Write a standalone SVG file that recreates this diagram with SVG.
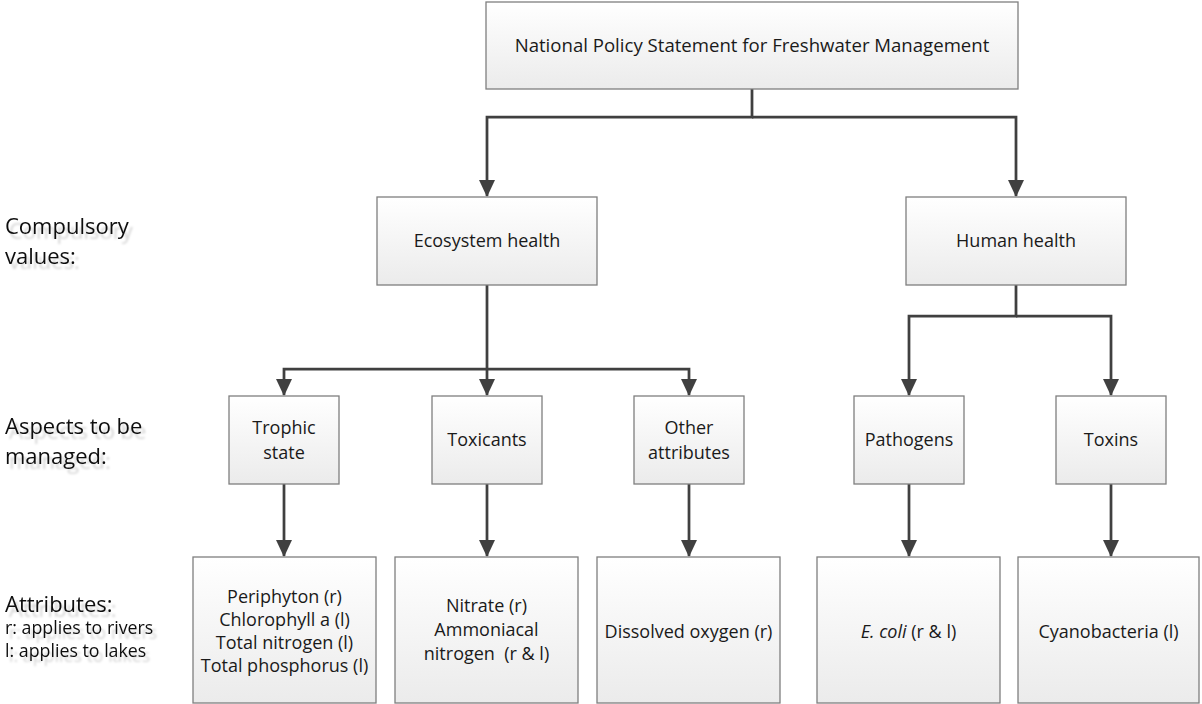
<svg xmlns="http://www.w3.org/2000/svg" width="1202" height="704" viewBox="0 0 1202 704">
  <defs>
    <linearGradient id="boxfill" x1="0" y1="0" x2="0" y2="1">
      <stop offset="0" stop-color="#ffffff"/>
      <stop offset="1" stop-color="#ebebeb"/>
    </linearGradient>
    <marker id="arrow" markerUnits="userSpaceOnUse" markerWidth="17" markerHeight="16" viewBox="0 0 17 16" refX="16" refY="8" orient="auto">
      <path d="M0,0 L17,8 L0,16 z" fill="#404040"/>
    </marker>
    <filter id="shadow" x="-10%" y="-30%" width="130%" height="180%">
      <feDropShadow dx="4" dy="5" stdDeviation="1.2" flood-color="#000" flood-opacity="0.17"/>
    </filter>
    <style>
      .box { fill: url(#boxfill); stroke: #7f7f7f; stroke-width: 1.3; }
      .t { font-family: "Open Sans", Lato, "Liberation Sans", sans-serif; font-size: 18px; fill: #1a1a1a; text-anchor: middle; }
      .lbl { font-family: "Open Sans", Lato, "Liberation Sans", sans-serif; font-size: 22px; fill: #111; filter: url(#shadow); }
      .lbls { font-family: "Open Sans", Lato, "Liberation Sans", sans-serif; font-size: 17.8px; fill: #111; filter: url(#shadow); }
      .conn { fill: none; stroke: #404040; stroke-width: 2.75; }
    </style>
  </defs>

  <g id="side-labels">
    <text class="lbl" x="5" y="234">Compulsory</text>
    <text class="lbl" x="5" y="264">values:</text>
    <text class="lbl" x="5" y="434">Aspects to be</text>
    <text class="lbl" x="5" y="464">managed:</text>
    <text class="lbl" x="5" y="612">Attributes:</text>
    <text class="lbls" x="5" y="634">r: applies to rivers</text>
    <text class="lbls" x="5" y="657">l: applies to lakes</text>
  </g>

  <g id="connectors">
    <path class="conn" d="M752,89 V117 H487 V196" marker-end="url(#arrow)"/>
    <path class="conn" d="M752,117 H1016 V196" marker-end="url(#arrow)"/>
    <path class="conn" d="M487,285 V395" marker-end="url(#arrow)"/>
    <path class="conn" d="M487,369 H284 V395" marker-end="url(#arrow)"/>
    <path class="conn" d="M487,369 H689 V395" marker-end="url(#arrow)"/>
    <path class="conn" d="M1016,285 V316 H909 V395" marker-end="url(#arrow)"/>
    <path class="conn" d="M1016,316 H1111 V395" marker-end="url(#arrow)"/>
    <path class="conn" d="M284,484 V556" marker-end="url(#arrow)"/>
    <path class="conn" d="M487,484 V556" marker-end="url(#arrow)"/>
    <path class="conn" d="M689,484 V556" marker-end="url(#arrow)"/>
    <path class="conn" d="M909,484 V556" marker-end="url(#arrow)"/>
    <path class="conn" d="M1111,484 V556" marker-end="url(#arrow)"/>
  </g>

  <g id="nps">
    <rect class="box" x="486" y="2" width="532" height="87"/>
    <text class="t" x="752" y="52" style="font-size:18.6px">National Policy Statement for Freshwater Management</text>
  </g>
  <g id="ecosystem-health">
    <rect class="box" x="377" y="197" width="220" height="88"/>
    <text class="t" x="487" y="247">Ecosystem health</text>
  </g>
  <g id="human-health">
    <rect class="box" x="906" y="197" width="220" height="88"/>
    <text class="t" x="1016" y="247">Human health</text>
  </g>

  <g id="trophic-state">
    <rect class="box" x="229" y="396" width="110" height="88"/>
    <text class="t" x="284" y="434">Trophic</text>
    <text class="t" x="284" y="459">state</text>
  </g>
  <g id="toxicants">
    <rect class="box" x="432" y="396" width="110" height="88"/>
    <text class="t" x="487" y="446">Toxicants</text>
  </g>
  <g id="other-attributes">
    <rect class="box" x="634" y="396" width="110" height="88"/>
    <text class="t" x="689" y="434">Other</text>
    <text class="t" x="689" y="459">attributes</text>
  </g>
  <g id="pathogens">
    <rect class="box" x="854" y="396" width="110" height="88"/>
    <text class="t" x="909" y="446">Pathogens</text>
  </g>
  <g id="toxins">
    <rect class="box" x="1056" y="396" width="110" height="88"/>
    <text class="t" x="1111" y="446">Toxins</text>
  </g>

  <g id="trophic-attributes">
    <rect class="box" x="193" y="557" width="183" height="146"/>
    <text class="t" x="284.5" y="603">Periphyton (r)</text>
    <text class="t" x="284.5" y="626">Chlorophyll a (l)</text>
    <text class="t" x="284.5" y="649">Total nitrogen (l)</text>
    <text class="t" x="284.5" y="672">Total phosphorus (l)</text>
  </g>
  <g id="toxicant-attributes">
    <rect class="box" x="395" y="557" width="183" height="146"/>
    <text class="t" x="486.5" y="612">Nitrate (r)</text>
    <text class="t" x="486.5" y="636">Ammoniacal</text>
    <text class="t" x="486.5" y="660" xml:space="preserve">nitrogen  (r &amp; l)</text>
  </g>
  <g id="other-attribute-list">
    <rect class="box" x="597" y="557" width="183" height="146"/>
    <text class="t" x="688.5" y="638">Dissolved oxygen (r)</text>
  </g>
  <g id="pathogen-attributes">
    <rect class="box" x="817" y="557" width="183" height="146"/>
    <text class="t" x="908.5" y="638"><tspan font-style="italic">E. coli</tspan> (r &amp; l)</text>
  </g>
  <g id="toxin-attributes">
    <rect class="box" x="1018" y="557" width="181" height="146"/>
    <text class="t" x="1108.5" y="638">Cyanobacteria (l)</text>
  </g>
</svg>
